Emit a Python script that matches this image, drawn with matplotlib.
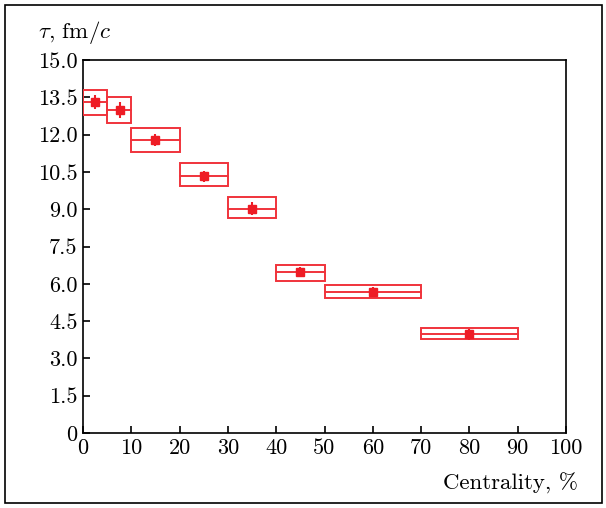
import matplotlib
matplotlib.use("Agg")
import matplotlib.pyplot as plt
from matplotlib.patches import Rectangle

plt.rcParams['font.family'] = 'serif'
plt.rcParams['font.serif'] = ['cmr10']
plt.rcParams['mathtext.fontset'] = 'cm'
plt.rcParams['axes.unicode_minus'] = False

# Data
bin_lo = [0, 5, 10, 20, 30, 40, 50, 70]
bin_hi = [5, 10, 20, 30, 40, 50, 70, 90]
x_pts = [2.5, 7.6, 15, 25, 35, 45, 60, 80]
tau = [13.31, 12.99, 11.78, 10.33, 9.02, 6.47, 5.67, 3.98]
stat_err = [0.30, 0.32, 0.23, 0.22, 0.27, 0.20, 0.22, 0.22]
sys_lo = [12.79, 12.46, 11.30, 9.93, 8.64, 6.11, 5.43, 3.78]
sys_hi = [13.79, 13.50, 12.26, 10.86, 9.49, 6.75, 5.95, 4.22]

xticks = [0, 10, 20, 30, 40, 50, 60, 70, 80, 90, 100]
yticks = [0, 1.5, 3.0, 4.5, 6.0, 7.5, 9.0, 10.5, 12.0, 13.5, 15.0]
ytick_labels = ['0', '1.5', '3.0', '4.5', '6.0', '7.5', '9.0', '10.5', '12.0', '13.5', '15.0']

red = '#ee1c25'
box_red = '#f0333b'

fig = plt.figure(figsize=(6.06, 5.08), dpi=100)
ax = fig.add_axes([83/606, 1-433/508, (566-83)/606, (433-60)/508])

for lo, hi, slo, shi, t in zip(bin_lo, bin_hi, sys_lo, sys_hi, tau):
    ax.add_patch(Rectangle((lo, slo), hi-lo, shi-slo, fill=False,
                           edgecolor=box_red, linewidth=1.4, zorder=3))
    ax.plot([lo, hi], [t, t], color=box_red, linewidth=1.4, zorder=3)

ax.errorbar(x_pts, tau, yerr=stat_err, fmt='s', color=red, markersize=6,
            elinewidth=1.5, capsize=0, zorder=4)

ax.set_xlim(0, 100)
ax.set_ylim(0, 15)
ax.set_xticks(xticks)
ax.set_xticklabels([str(v) for v in xticks])
ax.set_yticks(yticks)
ax.set_yticklabels(ytick_labels)
ax.tick_params(direction='in', length=5, width=1.2, labelsize=16, pad=4,
               top=False, right=False)
for s in ax.spines.values():
    s.set_linewidth(1.2)

fig.text(38/606, 1-32/508, r'$\tau$, fm/$c$', fontsize=16.5, ha='left', va='center')
fig.text(578/606, 1-483/508, 'Centrality, %', fontsize=16.5, ha='right', va='center')

fig.patches.append(Rectangle((5/606, 5/508), 597/606, 498/508, transform=fig.transFigure,
                             fill=False, edgecolor='black', linewidth=1.2))

fig.savefig('out.png', dpi=100)
